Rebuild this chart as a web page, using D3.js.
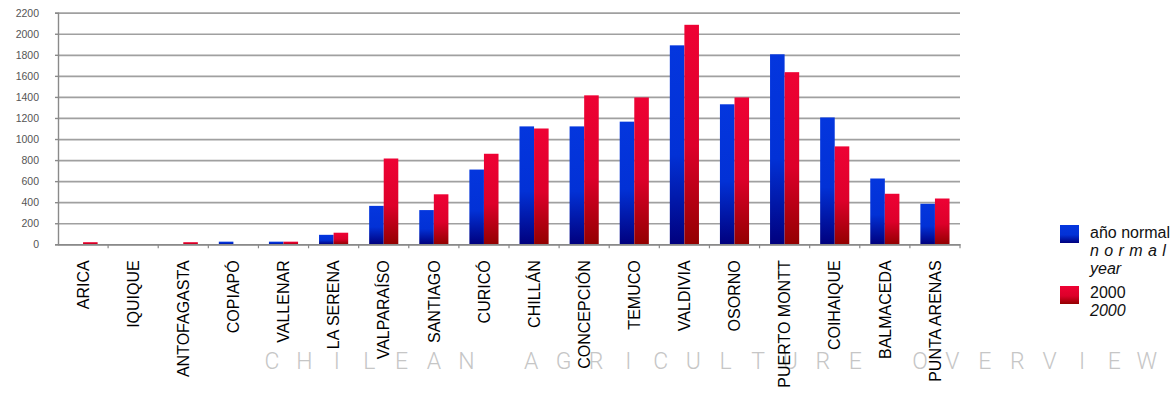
<!DOCTYPE html>
<html>
<head>
<meta charset="utf-8">
<script src="https://cdn.jsdelivr.net/npm/d3@7"></script>
<style>
  html, body { margin: 0; padding: 0; background: #fff; }
  svg { display: block; font-family: "Liberation Sans", Arial, sans-serif; }
</style>
</head>
<body>
<svg id="chart" width="1174" height="393"></svg>
<script>
// Annual rainfall (mm) by city, normal year vs. 2000
const cities = ["ARICA", "IQUIQUE", "ANTOFAGASTA", "COPIAPÓ", "VALLENAR", "LA SERENA",
  "VALPARAÍSO", "SANTIAGO", "CURICÓ", "CHILLÁN", "CONCEPCIÓN", "TEMUCO", "VALDIVIA",
  "OSORNO", "PUERTO MONTT", "COIHAIQUE", "BALMACEDA", "PUNTA ARENAS"];
const normalYear = [0, 0, 0, 25, 25, 90, 365, 325, 710, 1120, 1120, 1165, 1890, 1330, 1805, 1205, 625, 385];
const year2000   = [20, 0, 20, 0, 25, 110, 815, 475, 860, 1100, 1415, 1395, 2085, 1395, 1635, 930, 480, 435];
const seriesKeys = ["normal", "y2000"];
const yTicks = [0, 200, 400, 600, 800, 1000, 1200, 1400, 1600, 1800, 2000, 2200];
const legendMain = ["año normal", "2000"];
const legendSub = [["normal", "year"], ["2000"]];
const watermark = "CHILEAN AGRICULTURE OVERVIEW";

const svg = d3.select("#chart");
const plotLeft = 58, plotRight = 960, plotTop = 12.7, plotBottom = 244.3;

const y = d3.scaleLinear().domain([0, 2200]).range([plotBottom, plotTop]);
const x0 = d3.scaleBand().domain(cities).range([plotLeft, plotRight]).padding(0);
const x1 = d3.scaleBand().domain(seriesKeys).range([0, x0.bandwidth()])
  .paddingInner(0).paddingOuter(0.72);

const rows = cities.map((c, i) => ({ city: c, normal: normalYear[i], y2000: year2000[i] }));

// gradients: bright at top, darkening toward the base of each bar
const defs = svg.append("defs");
const grads = {
  normal: [["0%", "#0436de"], ["55%", "#0231d6"], ["100%", "#00007e"]],
  y2000: [["0%", "#ee0234"], ["55%", "#dd002a"], ["100%", "#930000"]]
};
Object.entries(grads).forEach(([k, stops]) => {
  const g = defs.append("linearGradient").attr("id", "g-" + k)
    .attr("x1", 0).attr("y1", 0).attr("x2", 0).attr("y2", 1);
  stops.forEach(([o, c]) => g.append("stop").attr("offset", o).attr("stop-color", c));
});

// watermark across the bottom
const wmStart = 272, wmStep = 32.4;
svg.append("g").selectAll("text")
  .data(watermark.split(""))
  .join("text")
  .attr("x", (d, i) => wmStart + i * wmStep)
  .attr("y", 369)
  .attr("text-anchor", "middle")
  .style("font-family", "Roboto, 'Liberation Sans', sans-serif")
  .style("font-weight", 300)
  .style("font-size", "23px")
  .attr("fill", "#c6c6c6")
  .text(d => d);

// horizontal gridlines
const grid = svg.append("g").attr("transform", `translate(${plotLeft},0)`)
  .call(d3.axisLeft(y).tickValues(yTicks).tickSize(-(plotRight - plotLeft)).tickFormat(""));
grid.select(".domain").remove();
grid.selectAll("line").attr("stroke", "#a0a0a0").attr("stroke-width", 1.7);

// y axis with short ticks and labels
const yAxis = svg.append("g").attr("transform", `translate(${plotLeft},0)`)
  .call(d3.axisLeft(y).tickValues(yTicks).tickSize(3).tickPadding(16).tickFormat(d3.format("d")));
yAxis.select(".domain").attr("stroke", "#8a8a8a").attr("stroke-width", 1.4);
yAxis.selectAll(".tick line").attr("stroke", "#8a8a8a").attr("stroke-width", 1.4);
yAxis.selectAll("text").attr("fill", "#555").style("font-size", "10.5px")
  .style("font-family", "'Liberation Sans', Arial, sans-serif");

// bars
svg.append("g").selectAll("g")
  .data(rows)
  .join("g")
  .attr("transform", d => `translate(${x0(d.city)},0)`)
  .selectAll("rect")
  .data(d => seriesKeys.map(k => ({ key: k, value: d[k] })))
  .join("rect")
  .attr("x", d => x1(d.key))
  .attr("width", x1.bandwidth())
  .attr("y", d => y(d.value))
  .attr("height", d => y(0) - y(d.value))
  .attr("fill", d => `url(#g-${d.key})`);

// x axis: baseline, boundary ticks and rotated city names
const xAxis = svg.append("g").attr("transform", `translate(0,${plotBottom})`)
  .call(d3.axisBottom(x0).tickSize(0).tickPadding(0));
xAxis.select(".domain").attr("stroke", "#8a8a8a").attr("stroke-width", 1.4);
xAxis.selectAll("text")
  .attr("y", 0).attr("x", -16).attr("dy", "0.36em")
  .attr("transform", "rotate(-90)")
  .style("text-anchor", "end")
  .style("font-size", "16px")
  .style("font-family", "'Liberation Sans', Arial, sans-serif")
  .attr("fill", "#000");
svg.append("g").selectAll("line")
  .data(cities)
  .join("line")
  .attr("x1", d => x0(d) + x0.bandwidth())
  .attr("x2", d => x0(d) + x0.bandwidth())
  .attr("y1", plotBottom).attr("y2", plotBottom + 4)
  .attr("stroke", "#8a8a8a").attr("stroke-width", 1.2);

// legend
const legend = svg.append("g");
const swatchY = [225, 286];
const textY = [238, 298];
seriesKeys.forEach((k, i) => {
  legend.append("rect")
    .attr("x", 1060).attr("y", swatchY[i]).attr("width", 19).attr("height", 18)
    .attr("fill", `url(#g-${k})`);
  legend.append("text")
    .attr("x", 1090).attr("y", textY[i])
    .style("font-size", "16px").attr("fill", "#111")
    .text(legendMain[i]);
  legendSub[i].forEach((s, j) => {
    legend.append("text")
      .attr("x", 1090).attr("y", textY[i] + 18 + j * 18)
      .style("font-size", "16px").style("font-style", "italic")
      .style("letter-spacing", s === "normal" ? "5.4px" : "0px")
      .attr("fill", "#111")
      .text(s);
  });
});
</script>
</body>
</html>
